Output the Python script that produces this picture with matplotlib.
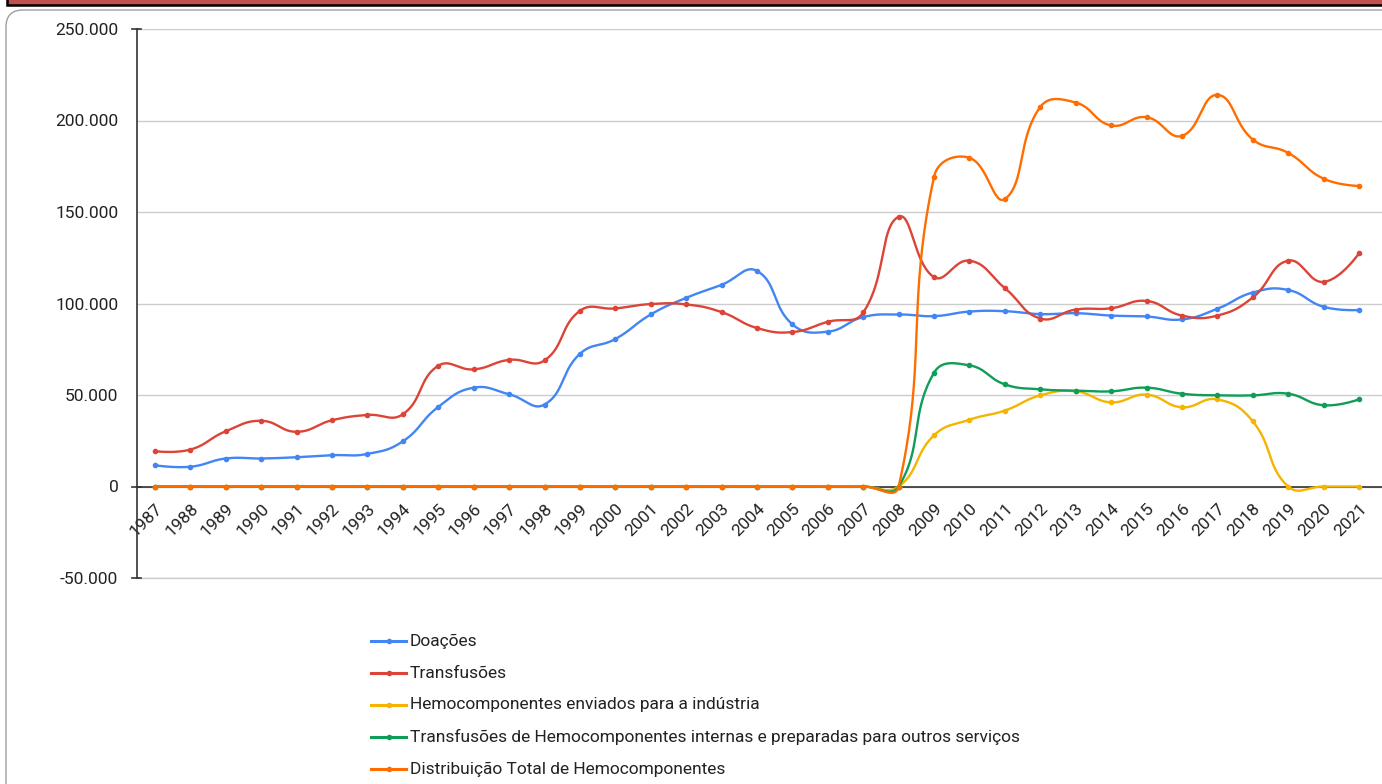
import numpy as np
import matplotlib
matplotlib.use("Agg")
import matplotlib.pyplot as plt
from matplotlib.patches import FancyBboxPatch, Rectangle
from matplotlib.lines import Line2D
import matplotlib.transforms as mtransforms
from matplotlib.ticker import FuncFormatter

plt.rcParams['font.family'] = ['Roboto', 'DejaVu Sans']

years = list(range(1987, 2022))

doacoes = [11600, 10800, 15300, 15300, 16000, 17100, 17800, 24700, 43500, 54000,
           50400, 44800, 72500, 80600, 94000, 103100, 110200, 117800, 88600, 84600,
           92600, 94000, 93100, 95600, 95800, 94200, 94700, 93400, 92900, 91300,
           97100, 106000, 107400, 98200, 96400]
transfusoes = [19300, 20200, 30200, 35900, 29900, 36200, 39100, 39500, 66000, 64000,
               69200, 68900, 96000, 97300, 99700, 99500, 95300, 86600, 84400, 90000,
               95100, 147400, 114400, 123400, 108400, 91800, 96700, 97400, 101400, 93400,
               93400, 103300, 123400, 111800, 127400]
industria = [0] * 22 + [28000, 36500, 41500, 49800, 52000, 46000, 50200, 43300,
                        47600, 35600, 0, 0, 0]
internas = [0] * 22 + [62200, 66200, 55800, 53100, 52400, 52000, 54000, 50700,
                       49800, 49800, 50700, 44400, 47600]
distribuicao = [0] * 22 + [169300, 179600, 157100, 207400, 209800, 197300, 201800, 191600,
                           214000, 189600, 182300, 168200, 164200]

series_names = ["Doações", "Transfusões", "Hemocomponentes enviados para a indústria",
                "Transfusões de Hemocomponentes internas e preparadas para outros serviços",
                "Distribuição Total de Hemocomponentes"]
series_vals = [doacoes, transfusoes, industria, internas, distribuicao]
colors = ["#4285F4", "#DB4437", "#F4B400", "#0F9D58", "#FF6D00"]

y_ticks = [-50000, 0, 50000, 100000, 150000, 200000, 250000]

W, H = 1382, 784
PX_PER_YEAR = 35.41
PX_PER_UNIT = 91.6 / 50000


def smooth(x, y, t=0.45, n=40):
    """Distance-weighted cubic Bezier spline (computed in pixel space)."""
    P = np.column_stack([np.asarray(x, float) * PX_PER_YEAR,
                         np.asarray(y, float) * PX_PER_UNIT])
    N = len(P)
    before = P.copy()
    after = P.copy()
    for i in range(1, N - 1):
        d01 = np.hypot(*(P[i] - P[i - 1]))
        d12 = np.hypot(*(P[i + 1] - P[i]))
        v = P[i + 1] - P[i - 1]
        s = d01 + d12
        before[i] = P[i] - t * d01 / s * v
        after[i] = P[i] + t * d12 / s * v
    u = np.linspace(0, 1, n)[:-1][:, None]
    segs = []
    for i in range(N - 1):
        b0, b1, b2, b3 = P[i], after[i], before[i + 1], P[i + 1]
        segs.append((1 - u)**3 * b0 + 3 * (1 - u)**2 * u * b1 +
                    3 * (1 - u) * u**2 * b2 + u**3 * b3)
    segs.append(P[-1:])
    out = np.vstack(segs)
    return out[:, 0] / PX_PER_YEAR, out[:, 1] / PX_PER_UNIT


fig = plt.figure(figsize=(W / 100, H / 100), dpi=100)

# top dark red bar
fig.add_artist(Rectangle((7 / W, 1 - 4.5 / H), 1.2, 0.05, transform=fig.transFigure,
                         facecolor="#C0504D", edgecolor="black", linewidth=1.8, zorder=-2))
# rounded frame
fig.add_artist(FancyBboxPatch((6 / W, -0.2), 1.2, 1 - 10 / H + 0.2,
                              boxstyle=f"round,pad=0,rounding_size={17 / W}",
                              transform=fig.transFigure, facecolor="none",
                              edgecolor="#9E9E9E", linewidth=1.0, zorder=-2,
                              mutation_aspect=W / H))

ax = fig.add_axes([137 / W, 1 - 578 / H, 1 - 137 / W, (578 - 29) / H])
ax.set_facecolor("none")

for v, c in zip(series_vals, colors):
    sx, sy = smooth(years, v)
    ax.plot(sx, sy, color=c, linewidth=1.7, zorder=3, solid_capstyle="round")
    ax.plot(years, v, linestyle="none", marker="o", markersize=3, color=c, zorder=4)

ax.spines["bottom"].set_position(("data", 0))
ax.spines["bottom"].set_visible(False)
for s in ["top", "right"]:
    ax.spines[s].set_visible(False)
ax.spines["left"].set_color("#333333")
ax.spines["left"].set_linewidth(1.2)

ax.set_xlim(1987 - 18 / PX_PER_YEAR, 2021 + 23 / PX_PER_YEAR)
ax.set_ylim(-50000, 250000)
ax.set_yticks(y_ticks)
ax.yaxis.set_major_formatter(FuncFormatter(lambda v, p: f"{int(v):,}".replace(",", ".")))
ax.tick_params(axis="y", length=0, pad=13.5, labelsize=12.5, labelcolor="#222222")
ax.grid(axis="y", color="#CCCCCC", linewidth=1.0, zorder=0)
ax.axhline(-50000, color="#CCCCCC", linewidth=1.0, zorder=0, clip_on=False)
ax.axhline(0, color="#333333", linewidth=1.2, zorder=2)
trans = mtransforms.blended_transform_factory(ax.transAxes, ax.transData)
for yv in (250000, 0, -50000):
    ax.plot([-5 / (W - 137), 4 / (W - 137)], [yv, yv], color="#333333", linewidth=1.2,
            transform=trans, clip_on=False, zorder=2)

ax.set_xticks(years)
ax.set_xticklabels([str(y) for y in years])
ax.tick_params(axis="x", length=0, pad=10.5)
for lab in ax.get_xticklabels():
    lab.set_rotation(45)
    lab.set_rotation_mode("anchor")
    lab.set_ha("right")
    lab.set_va("top")
    lab.set_fontsize(12.5)
    lab.set_color("#222222")

# legend
leg_y = [641, 673, 705, 737, 769]
for name, c, yy in zip(series_names, colors, leg_y):
    yf = 1 - yy / H
    fig.add_artist(Line2D([371 / W, 406 / W], [yf, yf], color=c, linewidth=2.2,
                          transform=fig.transFigure))
    fig.add_artist(Line2D([388.5 / W], [yf], color=c, marker="o", markersize=3,
                          transform=fig.transFigure))
    fig.text(410 / W, yf, name, fontsize=12.5, va="center", ha="left", color="#222222")

fig.savefig("out.png", dpi=100)
